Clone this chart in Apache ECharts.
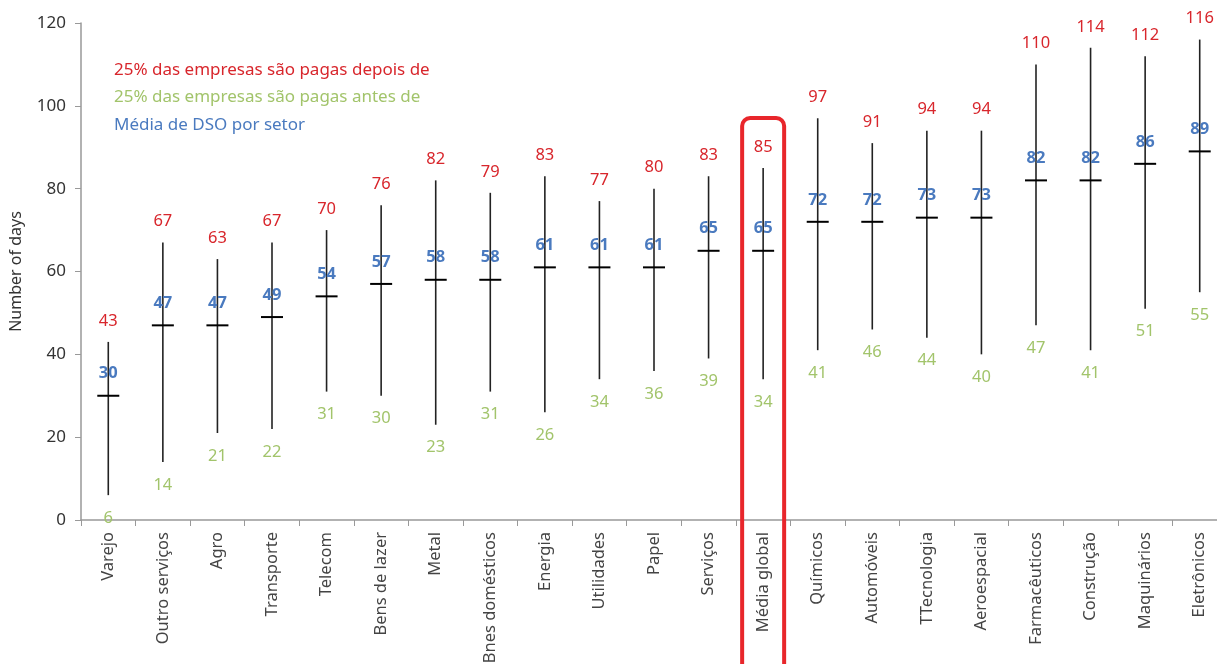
<!DOCTYPE html>
<html>
<head>
<meta charset="utf-8">
<script src="https://cdn.jsdelivr.net/npm/echarts@6/dist/echarts.min.js"></script>
<style>
  html, body { margin: 0; padding: 0; background: #fff; }
  #chart { width: 1217px; height: 664px; }
</style>
</head>
<body>
<div id="chart"></div>
<script>
// sectors and DSO values (days)
const categories = ['Varejo', 'Outro serviços', 'Agro', 'Transporte', 'Telecom', 'Bens de lazer', 'Metal',
    'Bnes domésticos', 'Energia', 'Utilidades', 'Papel', 'Serviços', 'Média global', 'Químicos',
    'Automóveis', 'TTecnologia', 'Aeroespacial', 'Farmacêuticos', 'Construção', 'Maquinários', 'Eletrônicos'];
const upper = [43, 67, 63, 67, 70, 76, 82, 79, 83, 77, 80, 83, 85, 97, 91, 94, 94, 110, 114, 112, 116];
const mean = [30, 47, 47, 49, 54, 57, 58, 58, 61, 61, 61, 65, 65, 72, 72, 73, 73, 82, 82, 86, 89];
const lower = [6, 14, 21, 22, 31, 30, 23, 31, 26, 34, 36, 39, 34, 41, 46, 44, 40, 47, 41, 51, 55];
const highlight = 'Média global';

const RED = '#d8262c';
const GREEN = '#a2c46b';
const BLUE = '#4a7abf';
const FONT = '"Noto Sans", Lato, sans-serif';

var chartDom = document.getElementById('chart');
var myChart = echarts.init(chartDom);

let renderItem = (params, api) => {
    let x = api.value(0);
    let lo = api.coord([x, api.value(1)]);
    let mid = api.coord([x, api.value(2)]);
    let hi = api.coord([x, api.value(3)]);
    let label = (p, txt, dy, color, weight) => ({
        type: 'text', x: p[0], y: p[1] + dy,
        style: { text: String(txt), fill: color, fontSize: 16.5, fontFamily: FONT, fontWeight: weight,
            align: 'center', verticalAlign: 'middle' }
    });
    return {
        type: 'group',
        children: [
            { type: 'line', shape: { x1: lo[0], y1: lo[1], x2: hi[0], y2: hi[1] }, style: { stroke: '#222', lineWidth: 1.6 } },
            { type: 'line', shape: { x1: mid[0] - 11, y1: mid[1], x2: mid[0] + 11, y2: mid[1] }, style: { stroke: '#000', lineWidth: 2 } },
            label(hi, api.value(3), -21, RED, 'normal'),
            label(mid, api.value(2), -22, BLUE, 'bold'),
            label(lo, api.value(1), 23, GREEN, 'normal')
        ]
    };
};

let seriesData = categories.map((c, i) => [i, lower[i], mean[i], upper[i]]);

let option = {
    animation: false,
    textStyle: { fontFamily: FONT },
    grid: { left: 81, right: -10, top: 23, bottom: 144, outerBoundsMode: 'none', containLabel: false },
    xAxis: {
        type: 'category',
        data: categories,
        boundaryGap: true,
        axisLine: { lineStyle: { color: '#999', width: 1.5 } },
        axisTick: { show: true, interval: 0, length: 6, lineStyle: { color: '#999' } },
        axisLabel: { rotate: 90, interval: 0, margin: 12, fontSize: 16.5, color: '#444', fontFamily: FONT }
    },
    yAxis: {
        type: 'value',
        min: 0, max: 120, interval: 20,
        name: 'Number of days',
        nameLocation: 'middle',
        nameGap: 57,
        nameTextStyle: { fontSize: 16, color: '#333', fontFamily: FONT },
        axisLine: { show: true, lineStyle: { color: '#999', width: 1.5 } },
        axisTick: { show: true, length: 6, lineStyle: { color: '#999' } },
        splitLine: { show: false },
        axisLabel: { fontSize: 17, color: '#333', margin: 15, fontFamily: FONT }
    },
    graphic: [
        { id: 'lg1', type: 'text', left: 114, top: 62, style: { text: '25% das empresas são pagas depois de', fill: RED, fontSize: 17, fontFamily: FONT } },
        { id: 'lg2', type: 'text', left: 114, top: 89, style: { text: '25% das empresas são pagas antes de', fill: GREEN, fontSize: 17, fontFamily: FONT } },
        { id: 'lg3', type: 'text', left: 114, top: 117, style: { text: 'Média de DSO por setor', fill: BLUE, fontSize: 17, fontFamily: FONT } }
    ],
    series: [{
        type: 'custom',
        renderItem: renderItem,
        encode: { x: 0, y: [1, 2, 3] },
        data: seriesData
    }]
};

myChart.setOption(option);

// red frame around the global average column
let cx = myChart.convertToPixel({ xAxisIndex: 0 }, highlight);
myChart.setOption({
    graphic: [{
        id: 'frame', type: 'rect', z: 10,
        shape: { x: cx - 21, y: 118, width: 42, height: 560, r: 8 },
        style: { fill: 'none', stroke: '#e8262b', lineWidth: 4 }
    }]
});
</script>
</body>
</html>
